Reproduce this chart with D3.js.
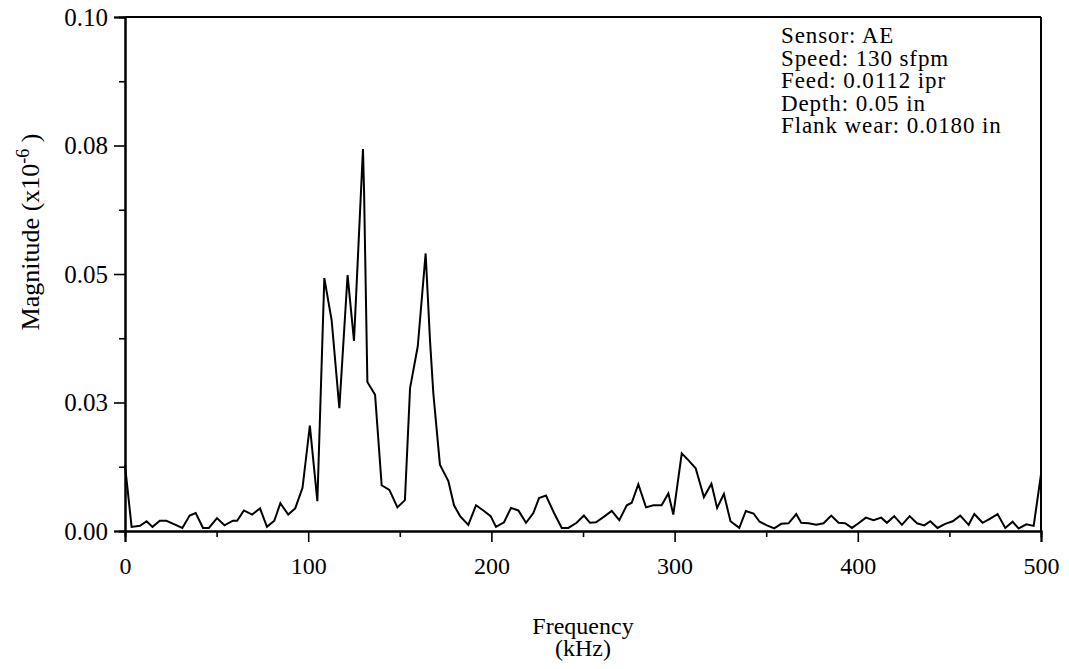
<!DOCTYPE html>
<html>
<head>
<meta charset="utf-8">
<script src="https://cdn.jsdelivr.net/npm/d3@7"></script>
<style>
  html, body { margin: 0; padding: 0; background: #fff; }
  svg { display: block; }
  text { font-family: "Liberation Serif", "Times New Roman", serif; fill: #000; }
</style>
</head>
<body>
<svg id="chart" width="1069" height="669"></svg>
<script>
// AE sensor spectrum: frequency (kHz) and magnitude (x10^-6)
const frequency = [
  0, 3.6, 8.2, 11.8, 15, 19, 22.6, 27, 31.3, 35.3, 38.6, 42.6, 45.8, 50.2, 54.3, 58.9,
  61.2, 64.9, 69.4, 73.7, 77.5, 81.5, 84.8, 89.1, 92.9, 96.9, 100.9, 105, 108.8, 112.8,
  117, 121.5, 125, 129.9, 130.5, 132.3, 136.5, 140.1, 144.3, 148.7, 152.8, 155.6, 159.8,
  164.1, 166.5, 168.3, 171.9, 176.5, 179.6, 182.9, 187.4, 191.6, 195.6, 199.6, 202.5,
  206.9, 210.7, 214.7, 218.9, 222.9, 226, 229.8, 234.2, 238.4, 242, 246.5, 250.5, 253.8,
  257.1, 261.5, 265.7, 269.8, 273.9, 276.6, 280.2, 284.4, 288.4, 292.9, 296.6, 299.3,
  303.9, 307.5, 311.5, 316, 320.1, 323.2, 326.9, 330.5, 335.3, 338.9, 343.1, 346.4,
  350.4, 354.4, 358.2, 362.2, 366.4, 369.1, 373.1, 377.3, 381.3, 385.5, 389.5, 393.1,
  396.8, 400.4, 404.4, 408.6, 412.8, 415.9, 419.9, 424.1, 428.3, 432.3, 436.3, 439.6,
  443.5, 447.7, 451.8, 455.9, 460.5, 463.6, 468.1, 472.3, 476.3, 480.5, 484.5, 487.8,
  492, 496, 500
];
const magnitude = [
  0.0128, 0.0008, 0.0010, 0.0019, 0.0008, 0.0020, 0.0020, 0.0013, 0.0006, 0.0030, 0.0035,
  0.0006, 0.0006, 0.0025, 0.0011, 0.0020, 0.0020, 0.0040, 0.0032, 0.0044, 0.0008, 0.0020,
  0.0054, 0.0032, 0.0044, 0.0084, 0.0205, 0.0058, 0.0492, 0.0410, 0.0239, 0.0498, 0.0370,
  0.0743, 0.0660, 0.0290, 0.0265, 0.0089, 0.0080, 0.0046, 0.0060, 0.0278, 0.0359, 0.0540,
  0.0370, 0.0268, 0.0129, 0.0097, 0.0050, 0.0029, 0.0012, 0.0050, 0.0040, 0.0029, 0.0008,
  0.0017, 0.0045, 0.0040, 0.0016, 0.0035, 0.0064, 0.0069, 0.0035, 0.0006, 0.0006, 0.0016,
  0.0030, 0.0016, 0.0017, 0.0028, 0.0039, 0.0021, 0.0050, 0.0055, 0.0091, 0.0046, 0.0050,
  0.0050, 0.0073, 0.0032, 0.0151, 0.0138, 0.0122, 0.0066, 0.0092, 0.0045, 0.0072, 0.0019,
  0.0006, 0.0039, 0.0034, 0.0018, 0.0011, 0.0005, 0.0014, 0.0015, 0.0033, 0.0016, 0.0015,
  0.0012, 0.0015, 0.0030, 0.0016, 0.0015, 0.0006, 0.0015, 0.0026, 0.0021, 0.0026, 0.0016,
  0.0029, 0.0012, 0.0029, 0.0015, 0.0011, 0.0019, 0.0006, 0.0014, 0.0019, 0.0030, 0.0012,
  0.0033, 0.0016, 0.0024, 0.0033, 0.0006, 0.0018, 0.0005, 0.0013, 0.0010, 0.0110
];

const xMajorTicks = [0, 100, 200, 300, 400, 500];
const xMinorTicks = [50, 150, 250, 350, 450];
const yMajorTicks = [0, 0.025, 0.05, 0.075, 0.1];
const yTickLabels = ["0.00", "0.03", "0.05", "0.08", "0.10"];
const yMinorTicks = [0.0125, 0.0375, 0.0625, 0.0875];
const infoLines = [
  "Sensor: AE",
  "Speed: 130 sfpm",
  "Feed: 0.0112 ipr",
  "Depth: 0.05 in",
  "Flank wear: 0.0180 in"
];

const svg = d3.select("#chart");
const plot = { left: 125, right: 1041, top: 17, bottom: 531 };

const x = d3.scaleLinear().domain([0, 500]).range([plot.left, plot.right]);
const y = d3.scaleLinear().domain([0, 0.1]).range([plot.bottom, plot.top]);

const fontSize = 24;

// frame: top and right edges
svg.append("line")
  .attr("x1", plot.left).attr("x2", plot.right)
  .attr("y1", y(0.1)).attr("y2", y(0.1))
  .attr("stroke", "#000").attr("stroke-width", 2);
svg.append("line")
  .attr("x1", plot.right).attr("x2", plot.right)
  .attr("y1", plot.top).attr("y2", plot.bottom)
  .attr("stroke", "#000").attr("stroke-width", 2);

// x axis
const xAxis = svg.append("g").attr("transform", `translate(0,${plot.bottom})`);
xAxis.call(d3.axisBottom(x).tickValues(xMinorTicks).tickSize(6).tickFormat(""));
xAxis.append("g").call(d3.axisBottom(x).tickValues(xMajorTicks).tickSize(11).tickPadding(15).tickFormat(d3.format("d")));
xAxis.selectAll("path").attr("stroke-width", 2);
xAxis.selectAll("line").attr("stroke-width", 1.6);
xAxis.selectAll("text").attr("font-size", fontSize).attr("font-family", "Liberation Serif");

// y axis
const yAxis = svg.append("g").attr("transform", `translate(${plot.left},0)`);
yAxis.call(d3.axisLeft(y).tickValues(yMinorTicks).tickSize(6).tickFormat(""));
yAxis.append("g").call(d3.axisLeft(y).tickValues(yMajorTicks).tickSize(11).tickPadding(6)
  .tickFormat((d, i) => yTickLabels[i]));
yAxis.selectAll("path").attr("stroke-width", 2);
yAxis.selectAll("line").attr("stroke-width", 1.6);
yAxis.selectAll("text").attr("font-size", 25).attr("font-family", "Liberation Serif");
svg.selectAll(".domain").attr("stroke", "#000");

// spectrum line
const line = d3.line()
  .x((d, i) => x(frequency[i]))
  .y((d, i) => y(magnitude[i]));
svg.append("path")
  .datum(magnitude)
  .attr("d", line)
  .attr("fill", "none")
  .attr("stroke", "#000")
  .attr("stroke-width", 2)
  .attr("stroke-linejoin", "miter");

// axis titles
svg.append("text")
  .attr("x", x(250)).attr("y", 634)
  .attr("text-anchor", "middle").attr("font-size", fontSize)
  .text("Frequency");
svg.append("text")
  .attr("x", x(250)).attr("y", 656)
  .attr("text-anchor", "middle").attr("font-size", fontSize)
  .text("(kHz)");

const yTitle = svg.append("text")
  .attr("transform", `translate(39,232) rotate(-90)`)
  .attr("text-anchor", "middle").attr("font-size", 26);
yTitle.append("tspan").text("Magnitude (x10");
yTitle.append("tspan").attr("dy", -10).attr("font-size", 18).text("-6");
yTitle.append("tspan").attr("dy", 10).text(" )");

// run parameters
const info = svg.append("text").attr("font-size", 23).attr("letter-spacing", 0.9);
infoLines.forEach((t, i) => {
  info.append("tspan").attr("x", 781).attr("y", 43 + i * 22.5).text(t);
});
</script>
</body>
</html>
